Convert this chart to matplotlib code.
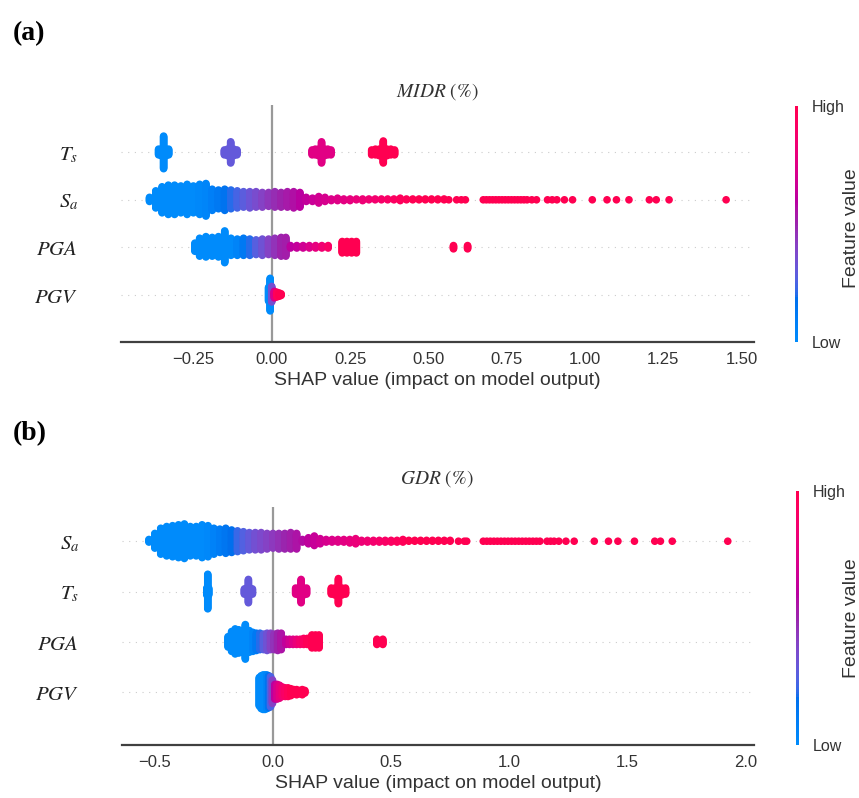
# Gráfico resumen SHAP (beeswarm) para MIDR y GDR
import numpy as np
import matplotlib
matplotlib.use("Agg")
import matplotlib.pyplot as plt
from matplotlib.colors import ListedColormap
from matplotlib.cm import ScalarMappable

plt.rcParams['mathtext.fontset'] = 'stix'

# ────────────────────────────────────────────────
# DATOS (valor SHAP, nº de puntos, valor de la variable 0..1)
# ────────────────────────────────────────────────
# Panel (a) MIDR
ts_a_shap = [-0.361, -0.353, -0.345, -0.337, -0.329,
             -0.151, -0.141, -0.131, -0.121, -0.111,
             0.129, 0.139, 0.149, 0.159, 0.169, 0.179, 0.189,
             0.319, 0.331, 0.343, 0.356, 0.368, 0.380, 0.392]
ts_a_n = [8, 9, 41, 9, 8,
          7, 9, 27, 9, 7,
          7, 8, 9, 27, 9, 8, 7,
          7, 8, 9, 28, 9, 8, 7]
ts_a_fv = [0, 0, 0, 0, 0,
           0.3, 0.3, 0.3, 0.3, 0.3,
           0.75, 0.75, 0.75, 0.75, 0.75, 0.75, 0.75,
           1, 1, 1, 1, 1, 1, 1]

sa_a_shap = [-0.39, -0.37, -0.35, -0.33, -0.31, -0.29, -0.27, -0.25, -0.23, -0.21,
             -0.19, -0.17, -0.15, -0.13, -0.11, -0.09, -0.07, -0.05, -0.03, -0.01,
             0.01, 0.03, 0.05, 0.07, 0.09, 0.11, 0.13, 0.15, 0.17, 0.19,
             0.21, 0.23, 0.25, 0.27, 0.29, 0.31, 0.33, 0.35, 0.37, 0.39,
             0.41, 0.43, 0.45, 0.47, 0.49, 0.51, 0.53, 0.55, 0.565]
sa_a_n = [6, 22, 33, 37, 37, 34, 38, 34, 38, 41,
          27, 24, 27, 24, 22, 20, 21, 20, 19, 18,
          20, 19, 20, 21, 19, 6, 5, 9, 6, 3,
          4, 3, 3, 2, 3, 2, 2, 2, 2, 2,
          4, 2, 2, 2, 2, 2, 2, 2, 1]
sa_a_fv = [0, 0, 0, 0, 0, 0, 0, 0, 0.02, 0.04,
           0.08, 0.12, 0.16, 0.2, 0.24, 0.28, 0.32, 0.36, 0.4, 0.44,
           0.47, 0.5, 0.53, 0.56, 0.59, 0.62, 0.65, 0.68, 0.7, 0.72,
           0.74, 0.76, 0.78, 0.8, 0.82, 0.84, 0.86, 0.88, 0.9, 0.92,
           0.94, 0.96, 0.98, 1, 1, 1, 1, 1, 1]
sa_a_cola = [0.59, 0.605, 0.618, 0.675, 0.685, 0.695, 0.705, 0.715, 0.725, 0.735,
             0.745, 0.755, 0.765, 0.775, 0.785, 0.795, 0.805, 0.815, 0.83, 0.845,
             0.88, 0.895, 0.91, 0.934, 0.96, 1.023, 1.07, 1.10, 1.14, 1.205,
             1.227, 1.268, 1.45]

pga_a_shap = [-0.245, -0.23, -0.21, -0.19, -0.17, -0.15, -0.13, -0.11, -0.09, -0.07,
              -0.05, -0.03, -0.01, 0.01, 0.03, 0.045,
              0.06, 0.08, 0.10, 0.12, 0.14, 0.16, 0.18,
              0.225, 0.24, 0.255, 0.27,
              0.58, 0.625]
pga_a_n = [11, 23, 26, 24, 26, 40, 22, 21, 22, 21,
           19, 21, 20, 22, 24, 24,
           4, 4, 4, 4, 4, 4, 4,
           15, 15, 15, 15,
           5, 5]
pga_a_fv = [0, 0, 0, 0, 0, 0, 0, 0.05, 0.12, 0.2,
            0.27, 0.33, 0.4, 0.45, 0.5, 0.52,
            0.6, 0.63, 0.67, 0.72, 0.78, 0.84, 0.9,
            1, 1, 1, 1,
            1, 1]

pgv_a_shap = [-0.010, -0.005, 0.0, 0.008, 0.016, 0.024, 0.030]
pgv_a_n = [18, 41, 20, 9, 7, 5, 3]
pgv_a_fv = [0, 0, 0.35, 0.7, 0.95, 1, 1]

# Panel (b) GDR
sa_b_shap = [-0.525, -0.50, -0.475, -0.45, -0.425, -0.40, -0.375, -0.35, -0.325, -0.30,
             -0.275, -0.25, -0.225, -0.20, -0.175, -0.15, -0.125, -0.10, -0.075, -0.05,
             -0.025, 0.0, 0.025, 0.05, 0.075, 0.10, 0.125, 0.15, 0.175, 0.20,
             0.225, 0.25, 0.275, 0.30, 0.325, 0.35, 0.375, 0.40, 0.425, 0.45,
             0.475, 0.50, 0.525, 0.55, 0.575, 0.60, 0.625, 0.65, 0.675, 0.70,
             0.725, 0.75]
sa_b_n = [4, 18, 31, 35, 37, 39, 41, 35, 35, 39,
          37, 31, 28, 30, 27, 25, 23, 21, 21, 21,
          19, 18, 19, 19, 20, 19, 4, 8, 12, 7,
          4, 4, 4, 4, 5, 7, 3, 3, 3, 3,
          3, 3, 3, 4, 2, 2, 2, 2, 2, 2,
          2, 2]
sa_b_fv = [0, 0, 0, 0, 0, 0, 0, 0, 0, 0,
           0.02, 0.06, 0.1, 0.14, 0.18, 0.22, 0.26, 0.3, 0.34, 0.37,
           0.4, 0.43, 0.46, 0.49, 0.52, 0.55, 0.58, 0.61, 0.64, 0.67,
           0.7, 0.72, 0.74, 0.76, 0.78, 0.8, 0.82, 0.84, 0.86, 0.88,
           0.9, 0.92, 0.94, 0.96, 1, 1, 1, 1, 1, 1,
           1, 1]
sa_b_cola = [0.785, 0.81, 0.82, 0.89, 0.905, 0.92, 0.935, 0.95, 0.965, 0.98,
             0.995, 1.01, 1.025, 1.04, 1.055, 1.07, 1.085, 1.10, 1.115, 1.13,
             1.16, 1.175, 1.19, 1.21, 1.24, 1.275, 1.36, 1.42, 1.46, 1.53,
             1.616, 1.64, 1.69, 1.925]

ts_b_shap = [-0.28, -0.276, -0.272,
             -0.121, -0.112, -0.104, -0.096, -0.087,
             0.096, 0.108, 0.119, 0.130, 0.142,
             0.247, 0.262, 0.277, 0.292, 0.307]
ts_b_n = [9, 41, 9,
          7, 8, 28, 8, 7,
          8, 9, 28, 9, 8,
          8, 9, 30, 9, 8]
ts_b_fv = [0, 0, 0,
           0.3, 0.3, 0.3, 0.3, 0.3,
           0.75, 0.75, 0.75, 0.75, 0.75,
           1, 1, 1, 1, 1]

pga_b_shap = [-0.19, -0.175, -0.16, -0.145, -0.13, -0.117, -0.10, -0.085, -0.07, -0.055,
              -0.04, -0.025, -0.01, 0.005, 0.02, 0.035,
              0.055, 0.07, 0.085, 0.10, 0.115, 0.13, 0.145,
              0.165, 0.18, 0.195,
              0.44, 0.465]
pga_b_n = [13, 24, 30, 28, 26, 41, 26, 23, 21, 20,
           19, 21, 20, 19, 21, 20,
           7, 7, 7, 7, 7, 8, 8,
           16, 16, 16,
           7, 7]
pga_b_fv = [0, 0, 0, 0, 0, 0, 0, 0.05, 0.12, 0.2,
            0.27, 0.33, 0.4, 0.45, 0.5, 0.55,
            0.62, 0.68, 0.74, 0.8, 0.86, 0.92, 0.97,
            1, 1, 1,
            1, 1]

pgv_b_shap = [-0.058, -0.05, -0.042, -0.034, -0.026, -0.018, -0.01, -0.002,
              0.008, 0.018, 0.028, 0.04, 0.052, 0.064, 0.076, 0.088, 0.10, 0.112,
              0.124, 0.135]
pgv_b_n = [34, 39, 41, 41, 40, 38, 36, 28,
           18, 18, 16, 12, 11, 11, 9, 6, 7, 5, 7, 4]
pgv_b_fv = [0, 0, 0, 0, 0.05, 0.15, 0.25, 0.4,
            0.6, 0.7, 0.78, 0.85, 0.9, 0.95, 1, 1, 1, 1, 1, 1]

etiquetas_a = [r'$PGV$', r'$PGA$', r'$S_a$', r'$T_s$']
etiquetas_b = [r'$PGV$', r'$PGA$', r'$T_s$', r'$S_a$']
ticks_a = [-0.25, 0.0, 0.25, 0.5, 0.75, 1.0, 1.25, 1.5]
ticks_b = [-0.5, 0.0, 0.5, 1.0, 1.5, 2.0]


# ────────────────────────────────────────────────
# MAPA DE COLOR (rojo-azul de shap, en espacio LCH)
# ────────────────────────────────────────────────
def lch_a_rgb(l, c, h):
    a, b = c * np.cos(h), c * np.sin(h)
    fy = (l + 16) / 116
    fx = fy + a / 500
    fz = fy - b / 200

    def finv(t):
        return t ** 3 if t > 6 / 29 else 3 * (6 / 29) ** 2 * (t - 4 / 29)

    xyz = np.array([0.95047 * finv(fx), finv(fy), 1.08883 * finv(fz)])
    m = np.array([[3.2406, -1.5372, -0.4986],
                  [-0.9689, 1.8758, 0.0415],
                  [0.0557, -0.2040, 1.0570]])
    rgb = np.clip(m @ xyz, 0, None)
    rgb = np.where(rgb > 0.0031308, 1.055 * rgb ** (1 / 2.4) - 0.055, 12.92 * rgb)
    return np.clip(rgb, 0, 1)


pasos = 100
l_vals = list(np.linspace(54, 40, pasos // 2)) + list(np.linspace(40, 54, pasos // 2))
c_vals = np.linspace(70, 90, pasos)
h_vals = np.linspace(4.6588, 0.35470565 + 2 * np.pi, pasos)
cmap_shap = ListedColormap([lch_a_rgb(l, c, h) for l, c, h in zip(l_vals, c_vals, h_vals)])


# ────────────────────────────────────────────────
# ENJAMBRE (apilado por columnas, como shap)
# ────────────────────────────────────────────────
def enjambre(vals, cuentas, fvals, cola=None):
    xs, ys, cs = [], [], []
    for v, n, f in zip(vals, cuentas, fvals):
        for k in range(n):
            xs.append(v)
            ys.append(np.ceil(k / 2) * ((k % 2) * 2 - 1))
            cs.append(f)
    for v in (cola or []):
        xs.append(v)
        ys.append(0)
        cs.append(1.0)
    ys = np.array(ys, dtype=float)
    ys *= 0.9 * (0.4 / (np.max(ys) + 1))
    return np.array(xs), ys, np.array(cs)


def dibujar_panel(ax, filas, etiquetas, xlim, ylim, ticks, fmt):
    for pos, fila in enumerate(filas):
        ax.axhline(pos, color='#cccccc', lw=0.8, dashes=(1, 5), zorder=-1)
        x, y, c = enjambre(*fila)
        ax.scatter(x, pos + y, c=c, cmap=cmap_shap, vmin=0, vmax=1, s=30,
                   linewidths=0, zorder=3, rasterized=True)
    ax.axvline(0, color='#999999', lw=1.6, zorder=-1)
    ax.set_xlim(*xlim)
    ax.set_ylim(*ylim)
    ax.set_yticks(range(len(etiquetas)))
    ax.set_yticklabels(etiquetas, fontsize=15, color='#222222')
    ax.tick_params(axis='y', length=0, pad=31)
    ax.set_xticks(ticks)
    ax.set_xticklabels([fmt.format(t).replace('-', '\u2212') for t in ticks],
                       fontsize=12, color='#333333', family='Liberation Sans')
    ax.tick_params(axis='x', length=0, pad=7)
    for lado in ['top', 'left', 'right']:
        ax.spines[lado].set_visible(False)
    ax.spines['bottom'].set_color('#404040')
    ax.spines['bottom'].set_linewidth(1.6)
    ax.set_xlabel('SHAP value (impact on model output)', fontsize=14,
                  color='#333333', family='Liberation Sans', labelpad=4)


def barra_color(fig, rect, ycentro):
    cax = fig.add_axes(rect)
    cb = fig.colorbar(ScalarMappable(cmap=cmap_shap), cax=cax, ticks=[0, 1])
    cb.outline.set_visible(False)
    cb.ax.set_yticklabels(['Low', 'High'])
    cb.ax.tick_params(length=0, labelsize=11.5, labelcolor='#333333', pad=10)
    for t in cb.ax.get_yticklabels():
        t.set_family('Liberation Sans')
    fig.text(851 / W, 1 - ycentro / H, 'Feature value', rotation=90, ha='center',
             va='center', fontsize=14, color='#333333', family='Liberation Sans')


W, H = 859, 798
fig = plt.figure(figsize=(W / 100, H / 100), dpi=100)

# Panel (a)
ax_a = fig.add_axes([121 / W, 1 - 342 / H, (754 - 121) / W, (342 - 105) / H])
filas_a = [(pgv_a_shap, pgv_a_n, pgv_a_fv),
           (pga_a_shap, pga_a_n, pga_a_fv),
           (sa_a_shap, sa_a_n, sa_a_fv, sa_a_cola),
           (ts_a_shap, ts_a_n, ts_a_fv)]
dibujar_panel(ax_a, filas_a, etiquetas_a, (-0.481, 1.539), (-1, 4), ticks_a, '{:.2f}')
barra_color(fig, [794.5 / W, 1 - 342 / H, 3 / W, (342 - 106) / H], 228)

# Panel (b)
ax_b = fig.add_axes([122 / W, 1 - 745 / H, (754 - 122) / W, (745 - 507) / H])
filas_b = [(pgv_b_shap, pgv_b_n, pgv_b_fv),
           (pga_b_shap, pga_b_n, pga_b_fv),
           (ts_b_shap, ts_b_n, ts_b_fv),
           (sa_b_shap, sa_b_n, sa_b_fv, sa_b_cola)]
dibujar_panel(ax_b, filas_b, etiquetas_b, (-0.639, 2.036), (-1.05, 3.68), ticks_b, '{:.1f}')
barra_color(fig, [795.5 / W, 1 - 745 / H, 3 / W, (745 - 491) / H], 618)

# Títulos y letras de panel
fig.text(437 / W, 1 - 92 / H, r'$MIDR$ (%)', ha='center', va='center', fontsize=14,
         family='STIXGeneral', color='#333333')
fig.text(437 / W, 1 - 479 / H, r'$GDR$ (%)', ha='center', va='center', fontsize=14,
         family='STIXGeneral', color='#333333')
fig.text(13 / W, 1 - 34 / H, '(a)', ha='left', va='center', fontsize=20,
         fontweight='bold', family='Liberation Serif')
fig.text(13 / W, 1 - 434 / H, '(b)', ha='left', va='center', fontsize=20,
         fontweight='bold', family='Liberation Serif')

fig.savefig('out.png', dpi=100)
plt.close(fig)
